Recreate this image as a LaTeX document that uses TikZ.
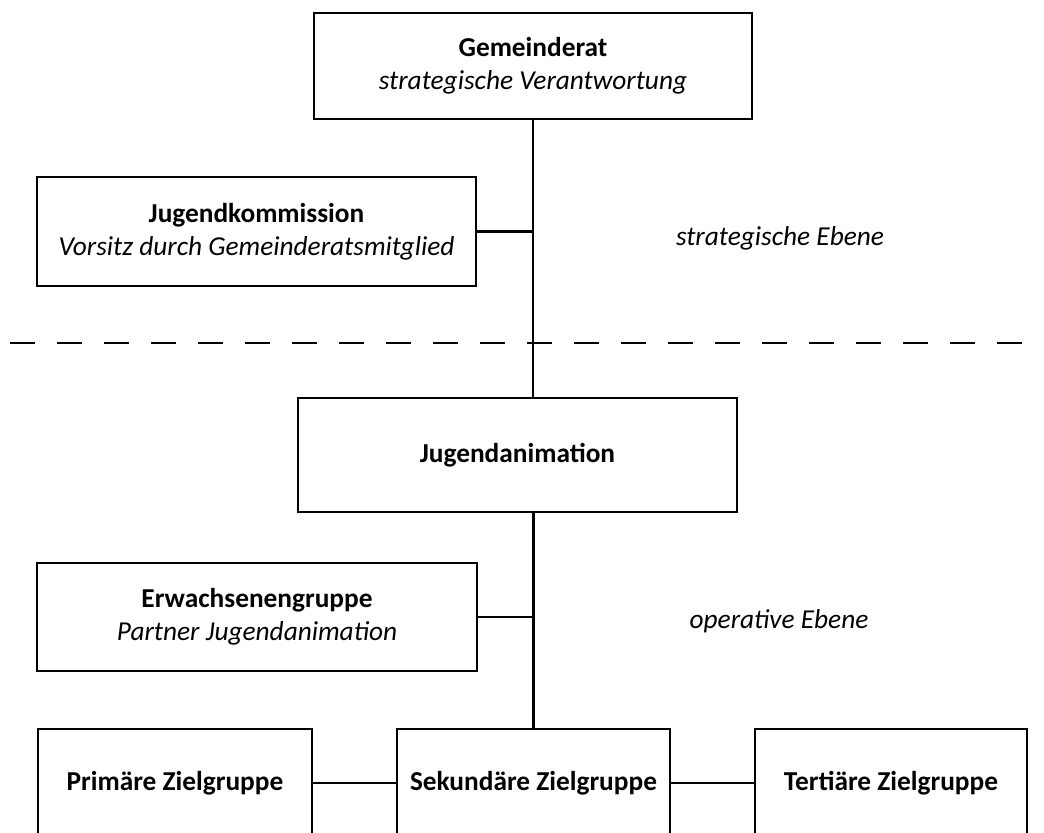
\documentclass[tikz,border=0pt]{standalone}
\usepackage{fontspec}
\setmainfont{Carlito}
\usetikzlibrary{positioning}

\tikzset{
  orgbox/.style={draw, align=center, inner sep=0pt, minimum height=81pt},
  ebene/.style={font=\fontsize{20.5}{25}\selectfont\itshape},
}

\begin{document}
\begin{tikzpicture}[x=0.75pt, y=-0.75pt, line width=1.6pt, font=\fontsize{20.5}{25}\selectfont]
    \useasboundingbox (0,0) rectangle (1044,832);
    \clip (0,0) rectangle (1044,832);
    \node[orgbox, minimum width=328.5pt, minimum height=79.5pt] (gemeinderat) at (533,66)
      {\textbf{Gemeinderat}\\\textit{strategische Verantwortung}};
    \node[orgbox, minimum width=329.25pt, minimum height=81.75pt] (kommission) at (256.5,231.5)
      {\textbf{Jugendkommission}\\\textit{Vorsitz durch Gemeinderatsmitglied}};
    \node[orgbox, minimum width=329.25pt, minimum height=85.5pt] (animation) at (517.5,455)
      {\textbf{Jugendanimation}};
    \node[orgbox, minimum width=330pt] (erwachsene) at (257,617)
      {\textbf{Erwachsenengruppe}\\\textit{Partner Jugendanimation}};
    \node[orgbox, minimum width=205.5pt] (primaer) at (175,783) {\textbf{Primäre Zielgruppe}};
    \node[orgbox, minimum width=204.75pt] (sekundaer) at (533.5,783) {\textbf{Sekundäre Zielgruppe}};
    \node[orgbox, minimum width=204pt] (tertiaer) at (891,783) {\textbf{Tertiäre Zielgruppe}};
    \node[ebene] (strategisch) at (780,238) {strategische Ebene};
    \node[ebene] (operativ) at (779,621) {operative Ebene};
    \coordinate (grenzeL) at (10,343);
    \coordinate (grenzeR) at (1044,343);
    \draw [dash pattern=on 18.75pt off 16.5pt] (grenzeL) -- (grenzeR);
    \draw (gemeinderat.south) -- (gemeinderat.south |- animation.north);
    \draw (kommission.east) -- (kommission.east -| gemeinderat.south);
    \draw (sekundaer.north) -- (sekundaer.north |- animation.south);
    \draw (erwachsene.east) -- (erwachsene.east -| sekundaer.north);
    \draw (primaer) -- (sekundaer);
    \draw (sekundaer) -- (tertiaer);
\end{tikzpicture}
\end{document}
